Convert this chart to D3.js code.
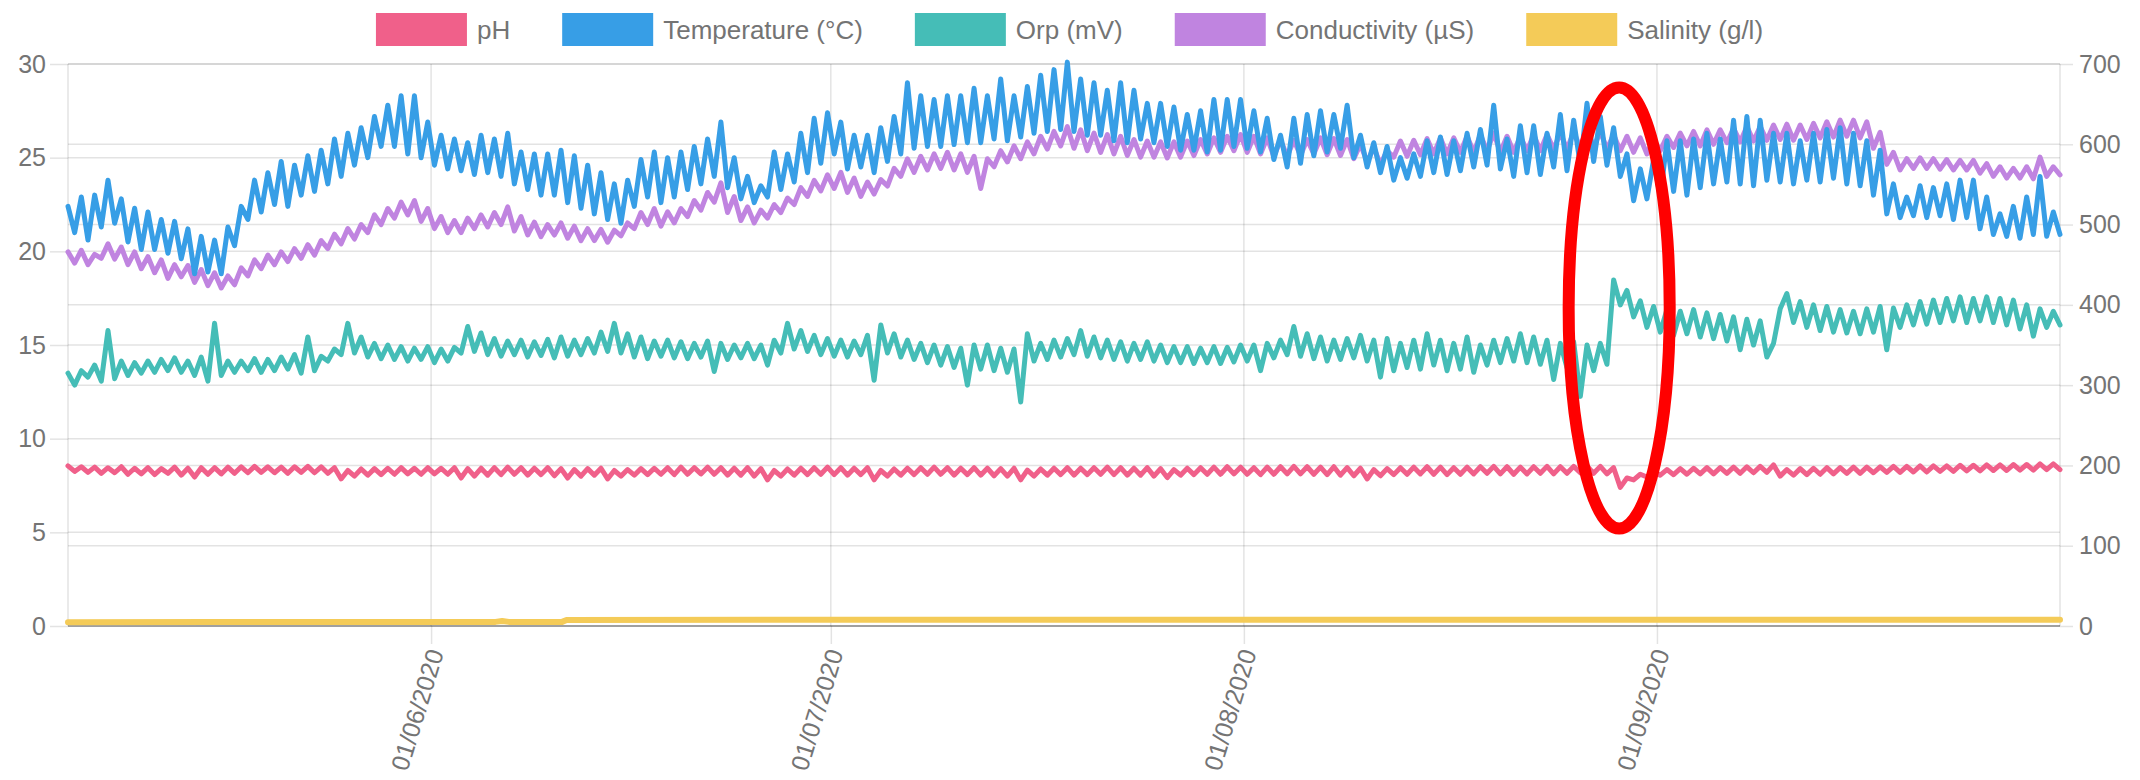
<!DOCTYPE html>
<html><head><meta charset="utf-8">
<script src="https://cdn.jsdelivr.net/npm/d3@7"></script>
<style>
html,body{margin:0;padding:0;background:#fff;}
svg{display:block;font-family:"Liberation Sans",Arial,Helvetica,sans-serif;}
</style></head><body>
<svg id="chart" width="2140" height="780"></svg>
<script>
// ---------- DATA ----------
// Daily readings: evening maxima from 2020-05-04 (18:00), morning minima from 2020-05-05 (06:00)
const firstMaxDay = "2020-05-04";
const seriesNames = ["pH", "Temperature (°C)", "Orp (mV)", "Conductivity (µS)", "Salinity (g/l)"];
const seriesColors = ["#f0608a", "#379ee6", "#45bdb7", "#c084e0", "#f4cb58"];
const leftTicks = [0, 5, 10, 15, 20, 25, 30];
const rightTicks = [0, 100, 200, 300, 400, 500, 600, 700];
const monthTicks = ["2020-06-01", "2020-07-01", "2020-08-01", "2020-09-01"];

const tempMax = [22.4,
22.9,23.0,23.8,22.8,22.3,22.1,21.7,21.6,21.2,20.8,
20.6,21.3,22.4,23.8,24.2,24.8,24.6,25.1,25.4,26.0,
26.3,26.6,27.2,27.8,28.3,28.3,26.9,26.2,26.0,25.8,
26.2,26.0,26.3,25.3,25.2,25.2,25.4,25.1,24.6,24.2,
23.6,23.8,24.9,25.3,25.0,25.3,25.6,26.0,26.9,25.0,
24.0,23.5,25.3,25.2,26.3,27.1,27.4,26.9,26.2,26.2,
26.6,27.2,29.0,28.3,28.1,28.3,28.3,28.7,28.3,29.2,
28.3,28.8,29.4,29.7,30.1,29.2,29.0,28.6,29.0,28.6,
27.9,27.9,27.7,27.3,27.5,28.1,28.1,28.1,27.5,27.1,
26.2,27.1,27.3,27.5,27.3,27.8,26.2,25.8,25.6,25.0,
25.2,25.9,26.1,25.9,26.3,26.5,27.8,26.0,26.7,26.7,
26.3,27.3,27.0,27.9,27.2,26.6,25.2,24.4,24.9,25.9,
25.9,26.0,26.3,26.0,27.0,27.2,27.0,26.3,26.3,25.9,
26.3,26.5,26.6,26.3,25.9,25.4,23.6,22.9,23.5,23.4,
23.6,23.8,23.8,22.9,22.0,22.4,22.9,24.0,22.1];
const tempMin = [
21.0,20.6,21.3,21.5,20.5,20.1,20.1,19.9,19.6,18.8,
18.9,18.8,20.3,21.7,22.1,22.5,22.4,23.0,23.2,23.6,
24.0,24.6,25.0,25.6,25.6,25.2,25.0,24.6,24.4,24.3,
24.1,24.2,24.0,23.6,23.3,23.0,23.0,22.6,22.3,22.0,
21.7,21.5,22.4,22.9,22.6,22.9,23.3,23.6,24.0,23.4,
22.8,22.6,22.9,23.3,23.7,24.2,24.7,25.2,24.4,24.5,
24.2,24.8,25.2,25.5,25.6,25.6,25.7,25.8,25.8,26.0,
25.9,26.1,26.3,26.4,26.5,26.4,26.2,26.2,25.9,25.8,
26.0,25.8,25.6,25.4,25.4,25.3,25.4,25.6,25.5,25.3,
24.9,24.5,24.7,25.1,25.3,25.5,25.0,24.5,24.2,23.8,
23.9,24.0,24.2,24.1,24.3,24.5,24.6,24.4,24.0,24.2,
24.1,24.5,24.3,24.6,24.8,24.6,24.0,22.7,22.8,22.9,
23.2,23.0,23.4,23.6,23.7,23.6,23.5,23.8,23.7,23.6,
23.8,23.7,23.9,23.6,23.5,23.0,22.0,21.8,21.9,21.8,
21.9,21.7,21.8,21.2,20.9,20.8,20.7,20.9,20.8,20.9];

const condMax = [466,
468,463,476,472,466,460,456,450,449,444,
440,436,446,456,462,466,470,475,480,488,
495,500,512,520,528,530,520,510,505,508,
512,515,522,510,503,500,502,498,495,494,
493,502,515,520,516,520,530,540,552,535,
522,518,525,533,546,555,562,565,558,553,
556,570,582,585,588,590,588,585,582,592,
598,603,610,616,622,618,614,612,610,606,
604,603,603,604,606,608,610,612,610,608,
605,605,606,608,607,606,600,596,592,604,
605,607,608,608,610,612,614,610,610,612,
612,614,615,618,616,612,610,608,606,610,
614,616,618,618,620,622,622,624,625,624,
626,628,630,630,628,615,590,582,583,582,
581,580,580,576,572,570,572,584,572];
const condMin = [
452,450,458,457,450,445,440,433,435,428,
424,421,425,436,445,450,454,458,462,470,
476,482,490,500,508,512,504,495,490,490,
495,497,500,492,487,485,487,483,480,480,
478,486,495,500,498,502,510,518,528,515,
505,502,508,515,525,535,542,545,540,535,
538,548,560,565,568,570,568,565,545,572,
578,582,588,594,598,595,592,590,588,586,
584,584,583,584,586,588,590,592,590,588,
585,585,586,588,587,586,582,578,575,584,
585,587,588,588,590,590,592,590,590,592,
592,594,594,596,596,594,592,590,588,592,
596,598,598,600,602,603,604,605,606,605,
606,608,609,610,608,595,575,568,570,570,
569,568,568,564,560,558,558,557,560,562];

const orpMax = [315,
318,325,368,330,328,330,332,334,330,335,
377,330,330,333,332,335,338,360,336,345,
377,360,352,350,348,346,348,345,347,373,
365,358,355,356,354,357,360,356,358,366,
377,364,360,355,356,354,352,355,352,350,
352,350,356,377,368,362,358,356,355,362,
375,364,356,352,350,348,346,350,350,346,
345,364,352,356,358,368,360,356,354,352,
354,350,348,348,346,348,347,350,350,352,
356,373,364,360,356,358,362,356,358,352,
356,364,356,352,360,350,356,358,364,360,
356,352,354,350,352,431,418,405,398,394,
392,394,390,388,385,382,380,352,414,404,
400,398,394,392,395,398,396,400,404,406,
408,410,408,410,408,406,400,395,392];
const orpMin = [
300,310,305,308,312,315,316,318,316,312,
305,312,316,318,316,318,320,315,318,330,
338,340,335,333,332,330,332,328,330,340,
342,338,336,338,335,337,334,336,338,340,
342,340,335,333,336,334,333,335,317,332,
334,333,325,340,345,342,338,336,335,338,
306,340,335,332,328,325,322,300,320,318,
316,279,330,332,335,338,336,334,332,330,
332,330,328,328,327,328,327,329,330,318,
334,338,336,333,330,332,334,330,310,318,
322,320,325,318,320,316,325,328,330,328,
326,307,322,286,318,326,400,385,372,366,
362,364,360,358,355,344,350,335,395,378,
372,368,366,365,364,366,344,372,375,376,
378,380,378,380,378,375,370,361,372,375];

const phMax = [8.55,
8.50,8.48,8.45,8.50,8.42,8.45,8.40,8.48,8.42,8.45,
8.45,8.48,8.50,8.52,8.50,8.48,8.50,8.52,8.50,8.45,
8.30,8.38,8.40,8.42,8.45,8.42,8.45,8.42,8.45,8.40,
8.42,8.45,8.48,8.45,8.42,8.45,8.40,8.35,8.40,8.42,
8.30,8.35,8.40,8.42,8.45,8.48,8.45,8.48,8.45,8.42,
8.45,8.40,8.30,8.38,8.42,8.45,8.48,8.45,8.42,8.45,
8.30,8.38,8.42,8.45,8.48,8.45,8.42,8.45,8.42,8.40,
8.42,8.32,8.38,8.42,8.45,8.42,8.45,8.48,8.45,8.42,
8.45,8.40,8.35,8.42,8.45,8.48,8.50,8.48,8.45,8.48,
8.50,8.52,8.50,8.48,8.50,8.45,8.42,8.35,8.40,8.45,
8.48,8.50,8.48,8.45,8.48,8.50,8.52,8.50,8.48,8.50,
8.52,8.50,8.52,8.55,8.52,8.45,7.90,8.10,8.25,8.35,
8.40,8.42,8.45,8.45,8.48,8.50,8.52,8.60,8.35,8.40,
8.42,8.45,8.45,8.48,8.48,8.50,8.52,8.52,8.55,8.55,
8.55,8.58,8.58,8.60,8.60,8.62,8.62,8.65,8.65];
const phMin = [
8.25,8.20,8.15,8.18,8.10,8.12,8.08,8.15,8.05,7.95,
8.10,8.12,8.15,8.18,8.20,8.18,8.15,8.20,8.18,8.15,
7.85,8.00,8.05,8.08,8.10,8.12,8.10,8.12,8.10,7.90,
8.00,8.05,8.08,8.10,8.05,8.08,8.02,7.90,8.00,8.05,
7.85,8.00,8.05,8.08,8.10,8.08,8.10,8.12,8.10,8.05,
8.05,8.00,7.80,8.00,8.05,8.08,8.10,8.08,8.05,8.08,
7.80,8.00,8.05,8.08,8.10,8.10,8.05,8.08,8.05,8.02,
8.00,7.80,8.00,8.05,8.08,8.05,8.08,8.10,8.08,8.05,
8.05,8.00,7.92,8.05,8.08,8.10,8.10,8.12,8.10,8.08,
8.10,8.12,8.12,8.10,8.08,8.05,8.02,7.85,8.02,8.08,
8.10,8.12,8.10,8.08,8.10,8.12,8.15,8.12,8.10,8.12,
8.15,8.12,8.15,8.18,8.15,8.12,7.40,7.80,7.95,8.05,
8.08,8.10,8.12,8.12,8.15,8.15,8.18,8.20,8.00,8.05,
8.08,8.10,8.12,8.15,8.15,8.18,8.20,8.20,8.22,8.22,
8.25,8.25,8.28,8.28,8.30,8.30,8.32,8.32,8.35,8.35];

const salDates = ["2020-05-04T18:00","2020-05-15T12:00","2020-05-28T12:00","2020-06-05T20:00",
  "2020-06-06T08:00","2020-06-06T20:00","2020-06-10T20:00","2020-06-11T04:00",
  "2020-07-01T12:00","2020-08-01T12:00","2020-09-01T12:00","2020-10-01T06:00"];
const salValues = [0.20, 0.21, 0.22, 0.22, 0.27, 0.22, 0.22, 0.32, 0.33, 0.33, 0.34, 0.34];

// red hand-drawn highlight (centre date, half width in days, top/bottom in left-axis units)
const highlightDate = "2020-08-29T04:00";
const highlightHalfDays = 3.8;
const highlightTop = 28.75;
const highlightBottom = 5.2;

// ---------- BUILD ----------
const parseDay = d3.utcParse("%Y-%m-%d");
const parseDT = d3.utcParse("%Y-%m-%dT%H:%M");
const day0 = parseDay(firstMaxDay);
function zigzag(maxArr, minArr) {
  const pts = [];
  const n = Math.min(maxArr.length, minArr.length);
  for (let k = 0; k < n; k++) {
    pts.push({ date: d3.utcHour.offset(d3.utcDay.offset(day0, k), 18), v: maxArr[k] });
    pts.push({ date: d3.utcHour.offset(d3.utcDay.offset(day0, k + 1), 6), v: minArr[k] });
  }
  return pts;
}
const phData = zigzag(phMax, phMin);
const tempData = zigzag(tempMax, tempMin);
const orpData = zigzag(orpMax, orpMin);
const condData = zigzag(condMax, condMin);
const salData = salDates.map((d, i) => ({ date: parseDT(d), v: salValues[i] }));

const L = 68, R = 2060, T = 64, B = 626;
const x = d3.scaleUtc().domain(d3.extent(tempData, d => d.date)).range([L, R]);
const yL = d3.scaleLinear().domain([0, 30]).range([B, T]);
const yR = d3.scaleLinear().domain([0, 700]).range([B, T]);

const svg = d3.select("#chart");
const grid = svg.append("g");
const gridCol = "rgba(0,0,0,0.11)";
const textCol = "#747474";

// horizontal grids (both axes)
grid.selectAll(".gl").data(leftTicks).enter().append("line")
  .attr("x1", L).attr("x2", R).attr("y1", d => yL(d)).attr("y2", d => yL(d))
  .attr("stroke", d => d === 0 ? "rgba(0,0,0,0.28)" : gridCol).attr("stroke-width", 1.5);
grid.selectAll(".gr").data(rightTicks).enter().append("line")
  .attr("x1", L).attr("x2", R).attr("y1", d => yR(d)).attr("y2", d => yR(d))
  .attr("stroke", d => d === 0 ? "rgba(0,0,0,0.28)" : gridCol).attr("stroke-width", 1.5);
// vertical grids
const monthDates = monthTicks.map(parseDay);
grid.selectAll(".gv").data(monthDates).enter().append("line")
  .attr("x1", d => x(d)).attr("x2", d => x(d)).attr("y1", T).attr("y2", B)
  .attr("stroke", gridCol).attr("stroke-width", 1.5);
grid.selectAll(".ge").data(x.domain()).enter().append("line")
  .attr("x1", d => x(d)).attr("x2", d => x(d)).attr("y1", T).attr("y2", B)
  .attr("stroke", gridCol).attr("stroke-width", 1.5);

// axes
function styleAxis(g) {
  g.select(".domain").remove();
  g.selectAll(".tick line").attr("stroke", gridCol).attr("stroke-width", 1.5);
  g.selectAll(".tick text").attr("fill", textCol).style("font-size", "25px");
}
svg.append("g").attr("transform", `translate(${L},0)`)
  .call(d3.axisLeft(yL).tickValues(leftTicks).tickSize(18).tickPadding(4))
  .call(styleAxis);
svg.append("g").attr("transform", `translate(${R},0)`)
  .call(d3.axisRight(yR).tickValues(rightTicks).tickSize(13).tickPadding(6))
  .call(styleAxis);
const xAxis = svg.append("g").attr("transform", `translate(0,${B})`)
  .call(d3.axisBottom(x).tickValues(monthDates).tickFormat(d3.utcFormat("%d/%m/%Y")).tickSize(18))
  .call(styleAxis);
xAxis.selectAll(".tick text")
  .attr("x", 0).attr("y", 0).attr("dy", "0.35em")
  .attr("text-anchor", "end")
  .attr("transform", "translate(4,24) rotate(-73)");

// series (drawn last-to-first so pH is on top)
const lineL = d3.line().x(d => x(d.date)).y(d => yL(d.v));
const lineR = d3.line().x(d => x(d.date)).y(d => yR(d.v));
const plot = svg.append("g");
const layers = [
  { data: salData, gen: lineL, color: seriesColors[4], w: 6 },
  { data: condData, gen: lineR, color: seriesColors[3], w: 5 },
  { data: orpData, gen: lineR, color: seriesColors[2], w: 5 },
  { data: tempData, gen: lineL, color: seriesColors[1], w: 5 },
  { data: phData, gen: lineL, color: seriesColors[0], w: 5 }
];
layers.forEach(s => {
  plot.append("path").datum(s.data)
    .attr("d", s.gen).attr("fill", "none")
    .attr("stroke", s.color).attr("stroke-width", s.w)
    .attr("stroke-linejoin", "round").attr("stroke-linecap", "round");
});

// legend
const legend = svg.append("g");
const boxW = 89, boxH = 31, textGap = 11, itemGap = 53;
const items = seriesNames.map((name, i) => {
  const g = legend.append("g");
  g.append("rect").attr("width", boxW).attr("height", boxH)
    .attr("fill", seriesColors[i]).attr("stroke", seriesColors[i]).attr("stroke-width", 2);
  const t = g.append("text").attr("x", boxW + textGap).attr("y", boxH / 2).attr("dy", "0.35em")
    .attr("fill", textCol).style("font-size", "26px").text(name);
  return { g, w: boxW + textGap + t.node().getComputedTextLength() };
});
const totalW = d3.sum(items, d => d.w) + itemGap * (items.length - 1);
let cx = 2140 / 2 - totalW / 2;
items.forEach(it => { it.g.attr("transform", `translate(${cx},14)`); cx += it.w + itemGap; });

// red highlight ellipse
const hc = parseDT(highlightDate);
const hx = x(hc);
const hrx = x(d3.utcHour.offset(hc, highlightHalfDays * 24)) - hx;
svg.append("ellipse")
  .attr("cx", hx).attr("cy", (yL(highlightTop) + yL(highlightBottom)) / 2)
  .attr("rx", hrx).attr("ry", (yL(highlightBottom) - yL(highlightTop)) / 2)
  .attr("fill", "none").attr("stroke", "#ff0000").attr("stroke-width", 12);
</script>
</body></html>
